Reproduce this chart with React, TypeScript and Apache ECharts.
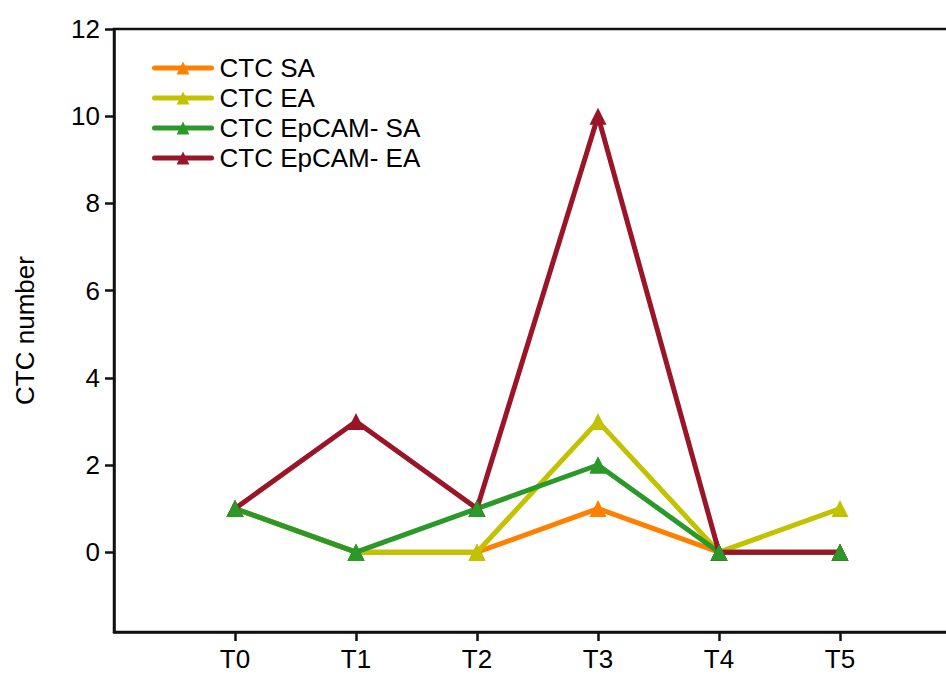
import React, { useEffect, useRef } from "react";
import * as echarts from "echarts";

const categories = ["T0", "T1", "T2", "T3", "T4", "T5"];
const ctcSA = [1, 0, 0, 1, 0, 0];
const ctcEA = [1, 0, 0, 3, 0, 1];
const ctcEpSA = [1, 0, 1, 2, 0, 0];
const ctcEpEA = [1, 3, 1, 10, 0, 0];
const yTicks = [0, 2, 4, 6, 8, 10, 12];
const xTicks = [0, 1, 2, 3, 4, 5];

const seriesNames = ["CTC SA", "CTC EA", "CTC EpCAM- SA", "CTC EpCAM- EA"];
const seriesData = [ctcSA, ctcEA, ctcEpSA, ctcEpEA];
const colors = ["#FF8000", "#C2C200", "#2A992A", "#9B1529"];

export default function App() {
  const ref = useRef<HTMLDivElement>(null);
  useEffect(() => {
    if (!ref.current) return;
    const chart = echarts.init(ref.current, null, { renderer: "svg" });
    const font = "'Liberation Sans', Arial, sans-serif";
    const toPts = (arr: number[]) => arr.map((v, i) => [i, v]);
    const lines = seriesNames.map((name, k) => ({
      name,
      type: "line",
      data: toPts(seriesData[k]),
      symbol: "triangle",
      symbolSize: 17,
      showSymbol: true,
      lineStyle: { width: 5, color: colors[k] },
      itemStyle: { color: colors[k] },
      z: 2 + k * 0.1,
    }));
    chart.setOption({
      animation: false,
      backgroundColor: "#fff",
      grid: {
        left: 114,
        top: 29,
        width: 847,
        bottom: 43,
        outerBoundsMode: "none",
        show: true,
        borderColor: "#111",
        borderWidth: 2.5,
        backgroundColor: "transparent",
      },
      legend: {
        left: 147,
        top: 50,
        orient: "vertical",
        itemWidth: 57,
        itemHeight: 16,
        itemGap: 4,
        lineStyle: { width: 5, cap: "round" },
        textStyle: { fontFamily: font, fontSize: 26, color: "#000", padding: [0, 0, 0, 3] },
        data: seriesNames,
      },
      xAxis: {
        type: "value",
        min: -1,
        max: 6,
        interval: 1,
        splitLine: { show: false },
        axisLine: { show: true, onZero: false, lineStyle: { color: "#111", width: 2.5 } },
        axisTick: { show: true, length: 9, customValues: xTicks, lineStyle: { color: "#111", width: 2.5 } },
        axisLabel: {
          fontFamily: font,
          fontSize: 26,
          color: "#000",
          margin: 14,
          customValues: xTicks,
          formatter: (v: number) => categories[v] ?? "",
        },
      },
      yAxis: {
        type: "value",
        min: -1.83,
        max: 12,
        name: "CTC number",
        nameLocation: "middle",
        nameGap: 76,
        nameTextStyle: { fontFamily: font, fontSize: 26, color: "#000" },
        splitLine: { show: false },
        axisLine: { show: true, onZero: false, lineStyle: { color: "#111", width: 2.5 } },
        axisTick: {
          show: true,
          length: 9,
          customValues: yTicks,
          lineStyle: { color: "#111", width: 2.5 },
        },
        axisLabel: {
          fontFamily: font,
          fontSize: 26,
          color: "#000",
          margin: 14,
          customValues: yTicks,
        },
      },
      series: [
        ...lines,
        {
          type: "scatter",
          data: toPts(ctcEpSA),
          symbol: "triangle",
          symbolSize: 17,
          itemStyle: { color: colors[2], opacity: 1 },
          z: 5,
          silent: true,
        },
      ],
    });
    return () => chart.dispose();
  }, []);
  return <div ref={ref} style={{ width: 946, height: 675, position: "absolute", left: 0, top: 0 }} />;
}
